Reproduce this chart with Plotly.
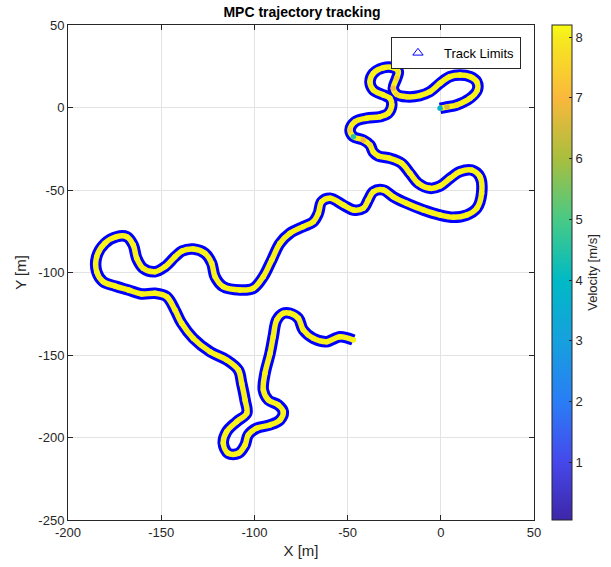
import plotly.graph_objects as go

# Trajectory centreline (m), in driving order
x_m = [-0.4, 3.3, 8.5, 15.7, 19.6, 19.3, 15.7, 10.3, 4.9, -0.4, -5.8, -11.2, -18.3, -23.7, -25.5,
       -23.7, -22.8, -25.5, -30.8, -36.2, -38.0, -36.2, -30.8, -27.3, -26.3, -28.2, -32.6, -39.8,
       -46.0, -48.7, -46.9, -41.6, -38.0, -36.2, -33.5, -27.3, -21.0, -16.5, -12.1, -5.8, -0.4,
       5.0, 10.3, 16.6, 21.0, 21.9, 19.3, 13.9, 6.7, -0.4, -9.4, -18.3, -25.5, -30.8, -36.2, -38.9,
       -41.6, -46.9, -52.3, -59.4, -63.9, -65.7, -68.4, -73.8, -80.9, -86.3, -90.7, -95.2, -100.6,
       -107.7, -116.7, -121.1, -122.9, -126.5, -132.8, -138.8, -142.6, -148.0, -153.3, -159.6,
       -163.1, -165.0, -168.5, -173.9, -180.2, -184.6, -184.6, -181.1, -174.8, -167.6, -160.5,
       -153.3, -147.0, -142.6, -139.0, -132.8, -123.8, -114.9, -108.6, -106.8, -105.0, -104.1,
       -109.5, -114.9, -116.7, -114.0, -108.6, -105.0, -103.3, -98.8, -91.6, -86.3, -84.5, -87.2,
       -92.5, -95.2, -94.3, -91.6, -89.9, -88.0, -84.5, -80.9, -76.4, -73.8, -68.4, -61.2, -54.1,
       -46.9]
y_m = [-0.5, 0.3, 1.5, 5.6, 10.6, 15.6, 18.7, 19.7, 18.7, 14.7, 9.6, 7.2, 6.5, 8.0, 11.6,
       17.7, 21.7, 24.1, 24.1, 20.7, 15.6, 10.6, 7.6, 5.6, 1.5, -3.5, -5.6, -6.5,
       -8.6, -13.6, -17.7, -19.7, -22.7, -27.0, -29.4, -30.8, -33.8, -39.9, -45.9, -49.0, -47.6,
       -42.9, -38.9, -37.9, -41.9, -52.0, -61.1, -65.2, -66.5, -65.2, -62.1, -58.1, -54.1, -50.0,
       -51.0, -56.1, -61.1, -62.1, -59.1, -55.0, -57.1, -64.1, -69.2, -72.2, -76.2, -82.3, -92.4,
       -102.5, -109.6, -110.6, -108.6, -102.5, -94.4, -88.4, -85.8, -87.0, -90.5, -96.5, -99.5,
       -97.5, -91.4, -83.3, -78.3, -78.3, -82.3, -90.4, -99.5, -105.6, -108.2, -110.6, -113.0,
       -112.6, -114.7, -122.7, -130.8, -139.9, -148.0, -153.0, -159.1, -167.2, -177.3, -185.3,
       -190.4, -196.5, -203.5, -209.6, -209.6, -204.5, -198.5, -194.4, -192.4, -189.4, -184.4,
       -180.3, -177.3, -171.2, -161.1, -149.0, -138.9, -128.8, -124.7, -124.7, -127.8, -134.8,
       -139.9, -141.9, -138.9, -140.9]
# Velocity along the trajectory (m/s)
velocity = [3.8, 6.6, 7.8, 8.1, 8.1, 8.1, 8.1, 8.1, 8.1, 8.1, 8.1, 8.1, 8.0, 7.6, 7.0,
            7.6, 8.0, 8.1, 8.1, 8.1, 8.1, 8.1, 8.1, 8.1, 8.1, 8.1, 8.1, 8.1,
            8.0, 7.6, 4.6, 7.0, 7.9, 8.1, 8.1, 8.1, 8.1, 8.1, 8.1, 8.1, 8.1,
            8.1, 8.1, 8.1, 8.1, 8.1, 8.1, 8.1, 8.1, 8.1, 8.1, 8.1, 8.1, 8.1,
            8.1, 8.1, 8.1, 8.1, 8.1, 8.1, 8.1, 8.1, 8.1, 8.1, 8.1, 8.1, 8.1,
            8.1, 8.1, 8.1, 8.1, 8.1, 8.1, 8.1, 8.1, 8.1, 8.1, 8.1, 8.1,
            8.1, 8.1, 8.1, 8.1, 8.1, 8.1, 8.1, 8.1, 8.1, 8.1, 8.1, 8.1,
            8.1, 8.1, 8.1, 8.1, 8.1, 8.1, 8.1, 8.1, 8.1, 8.1, 8.1,
            8.1, 8.1, 8.1, 8.1, 8.1, 8.1, 8.1, 8.1, 8.1, 8.1, 8.1,
            8.1, 8.1, 8.1, 8.1, 8.1, 8.1, 8.1, 8.1, 8.1, 8.1, 8.1,
            8.1, 8.1, 8.1, 8.1]
v_min, v_max = 0.05, 8.2
cbar_ticks = [1, 2, 3, 4, 5, 6, 7, 8]
x_ticks = [-200, -150, -100, -50, 0, 50]
y_ticks = [-250, -200, -150, -100, -50, 0, 50]

parula = [
    [0.0, "rgb(62,38,168)"], [0.117, "rgb(70,72,235)"], [0.239, "rgb(42,125,246)"],
    [0.362, "rgb(22,160,222)"], [0.485, "rgb(0,186,197)"], [0.607, "rgb(72,202,133)"],
    [0.730, "rgb(168,190,62)"], [0.853, "rgb(250,184,60)"], [0.975, "rgb(246,234,30)"],
    [1.0, "rgb(249,251,20)"],
]

FONT = "Liberation Sans, Arial, sans-serif"
TXT = "#262626"

fig = go.Figure()
# track limits band
fig.add_trace(go.Scatter(x=x_m, y=y_m, mode="lines", line=dict(color="#0000ff", width=11.5, shape="spline"),
                         showlegend=False, hoverinfo="skip"))
# trajectory base line
fig.add_trace(go.Scatter(x=x_m, y=y_m, mode="lines", line=dict(color="rgb(247,240,26)", width=5.5, shape="spline"),
                         showlegend=False, hoverinfo="skip"))
# velocity-coloured points
fig.add_trace(go.Scatter(
    x=x_m, y=y_m, mode="markers", showlegend=False,
    marker=dict(size=5.5, color=velocity, cmin=v_min, cmax=v_max, colorscale=parula,
                line=dict(width=0),
                colorbar=dict(x=1.0386, xanchor="left", y=0.5, yanchor="middle", len=1, lenmode="fraction",
                              xpad=0, ypad=0,
                              thickness=20, thicknessmode="pixels", outlinecolor=TXT, outlinewidth=1,
                              tickvals=cbar_ticks, ticks="inside", ticklen=3, tickcolor=TXT,
                              tickfont=dict(family=FONT, size=13, color=TXT),
                              title=dict(text="Velocity [m/s]", side="right",
                                         font=dict(family=FONT, size=13, color=TXT)))),
))
# legend entry
fig.add_trace(go.Scatter(x=[None], y=[None], mode="markers", name="Track Limits",
                         marker=dict(symbol="triangle-up-open", color="#0000ff", size=9, line=dict(width=1))))

axis_common = dict(showline=True, linecolor=TXT, linewidth=1, mirror="ticks", ticks="inside", ticklen=5,
                   tickcolor=TXT, showgrid=True, gridcolor="#e3e3e3", gridwidth=1, zeroline=False,
                   tickfont=dict(family=FONT, size=13, color=TXT))
fig.update_layout(
    width=611, height=567, margin=dict(l=68, r=77, t=25, b=47, autoexpand=False),
    paper_bgcolor="white", plot_bgcolor="white",
    title=dict(text="<b>MPC trajectory tracking</b>", x=(68 + 234) / 611, xanchor="center",
               y=1 - 12 / 567, yref="container", yanchor="middle",
               font=dict(family=FONT, size=14, color="black")),
    xaxis=dict(range=[-200, 50], tickvals=x_ticks, ticktext=[str(t) for t in x_ticks],
               title=dict(text="X [m]", font=dict(family=FONT, size=15, color=TXT), standoff=6),
               **axis_common),
    yaxis=dict(range=[-250, 50], tickvals=y_ticks, ticktext=[str(t) for t in y_ticks],
               title=dict(text="Y [m]", font=dict(family=FONT, size=15, color=TXT), standoff=8),
               **axis_common),
    legend=dict(x=0.972, xanchor="right", y=0.976, yanchor="top", bgcolor="white", bordercolor=TXT,
                borderwidth=1, itemwidth=42, font=dict(family=FONT, size=13, color="black")),
)
fig.write_html("out.html")
